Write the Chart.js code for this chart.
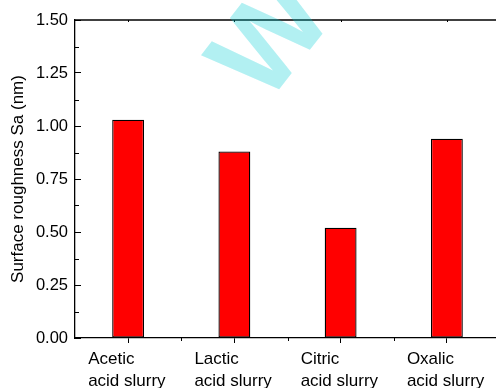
<!DOCTYPE html>
<html>
<head>
<meta charset="utf-8">
<script src="https://cdn.jsdelivr.net/npm/chart.js@4"></script>
<style>
  html, body { margin: 0; padding: 0; overflow: hidden; background: #fff; }
  #wrap { width: 500px; height: 388px; }
</style>
</head>
<body>
<div id="wrap"><canvas id="chart"></canvas></div>
<script>
const categories = [['Acetic', 'acid slurry'], ['Lactic', 'acid slurry'], ['Citric', 'acid slurry'], ['Oxalic', 'acid slurry']];
const roughness = [1.03, 0.88, 0.52, 0.94];
const yTicks = [0, 0.25, 0.5, 0.75, 1.0, 1.25, 1.5];
const yMinorTicks = [0.125, 0.375, 0.625, 0.875, 1.125, 1.375];
const xMinorTicks = [0.5, 1.5, 2.5];

Chart.defaults.font.family = '"Liberation Sans", Arial, sans-serif';
Chart.defaults.color = '#000';

// minor ticks, top frame line
const framePlugin = {
    id: 'frame',
    afterDatasetsDraw(chart) {
        const { ctx, chartArea, scales } = chart;
        ctx.save();
        ctx.strokeStyle = '#000';
        ctx.lineWidth = 1.3;
        ctx.beginPath();
        ctx.moveTo(chartArea.left, chartArea.top);
        ctx.lineTo(chartArea.right + 2, chartArea.top);
        ctx.stroke();

        ctx.lineWidth = 1;
        ctx.beginPath();
        yMinorTicks.forEach(v => {
            const y = Math.round(scales.y.getPixelForValue(v)) + 0.5;
            ctx.moveTo(chartArea.left, y);
            ctx.lineTo(chartArea.left + 4, y);
        });
        xMinorTicks.forEach(v => {
            const x = Math.round(scales.x.getPixelForValue(v)) + 0.5;
            ctx.moveTo(x, chartArea.bottom);
            ctx.lineTo(x, chartArea.bottom + 3);
        });
        categories.forEach((c, i) => {
            const x = Math.round(scales.x.getPixelForValue(i)) + 0.5;
            ctx.moveTo(x, chartArea.top);
            ctx.lineTo(x, chartArea.top + 2);
        });
        ctx.stroke();
        ctx.restore();
    }
};

const watermarkPlugin = {
    id: 'watermark',
    afterDraw(chart) {
        const ctx = chart.ctx;
        ctx.save();
        ctx.translate(266, 106);
        ctx.rotate(-52 * Math.PI / 180);
        ctx.font = 'bold 120px "Liberation Sans", Arial, sans-serif';
        ctx.fillStyle = 'rgba(0, 204, 212, 0.3)';
        ctx.fillText('W', 0, 0);
        ctx.restore();
    }
};

new Chart(document.getElementById('chart'), {
    type: 'bar',
    data: {
        labels: categories,
        datasets: [{
            data: roughness,
            backgroundColor: '#ff0000',
            borderColor: '#000',
            borderWidth: 1.3,
            borderSkipped: false,
            barPercentage: 0.3,
            categoryPercentage: 1
        }]
    },
    options: {
        responsive: true,
        maintainAspectRatio: false,
        animation: false,
        devicePixelRatio: 1,
        layout: { padding: { left: 4, top: 20, right: 0, bottom: 0 } },
        plugins: { legend: { display: false }, tooltip: { enabled: false } },
        scales: {
            x: {
                offset: true,
                ticks: {
                    font: { size: 17, lineHeight: 1.25 },
                    align: 'start',
                    labelOffset: -40,
                    padding: 6,
                    maxRotation: 0,
                    autoSkip: false
                },
                afterFit: (axis) => {
                    axis.paddingLeft = 0;
                    axis.paddingRight = 0;
                    axis.height = 50;
                },
                grid: { drawOnChartArea: false, offset: false, tickLength: 5, tickColor: '#000' },
                border: { color: '#000', width: 1.3 }
            },
            y: {
                min: 0,
                max: 1.5,
                afterBuildTicks: (axis) => { axis.ticks = yTicks.map(v => ({ value: v })); },
                afterFit: (axis) => {
                    axis.width = 71;
                    axis.paddingTop = 0;
                    axis.paddingBottom = 0;
                },
                ticks: {
                    font: { size: 16.5 },
                    padding: 13,
                    callback: v => v.toFixed(2)
                },
                grid: { drawOnChartArea: false, tickLength: -6, tickColor: '#000' },
                border: { color: '#000', width: 1.3 },
                title: {
                    display: true,
                    text: 'Surface roughness Sa (nm)',
                    font: { size: 17 },
                    padding: { top: 4, bottom: 4 }
                }
            }
        }
    },
    plugins: [framePlugin, watermarkPlugin]
});
</script>
</body>
</html>
